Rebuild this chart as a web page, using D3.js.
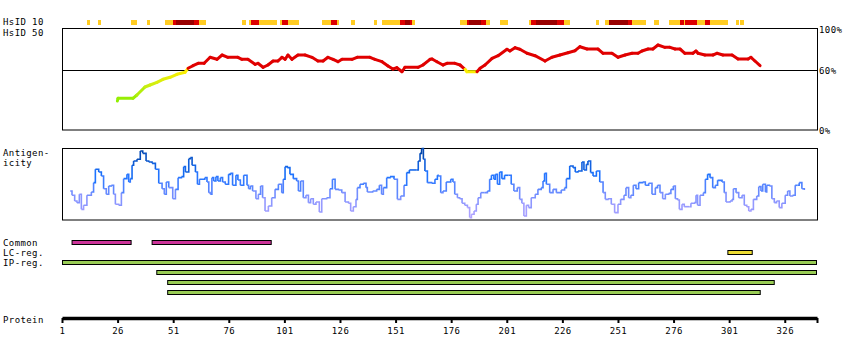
<!DOCTYPE html>
<html><head><meta charset="utf-8">
<script src="https://cdn.jsdelivr.net/npm/d3@7"></script>
<style>
body{margin:0;background:#fff;}
text{font-family:"DejaVu Sans Mono",monospace;font-size:9px;letter-spacing:0.4px;fill:#000;}
</style></head>
<body><svg id="c" width="850" height="360"></svg>
<script>
// ---------------- DATA ----------------
const proteinLength = 340;
const axisTicks = [1, 26, 51, 76, 101, 126, 151, 176, 201, 226, 251, 276, 301, 326];
const pctLabels = [100, 60, 0];

// HsID 10 blocks: [startResidue, endResidue, level] level 1=low,2=mid,3=high
const hsid10 = [
  [12.2,13.6,1],[17.1,18.5,1],[32.0,34.6,1],[39.2,40.6,1],
  [47.3,50.9,1],[50.9,52.3,2],[52.3,60.4,3],[60.4,62.6,2],[62.6,65.8,1],
  [81.9,83.7,1],
  [85.1,86.0,1],[86.0,89.6,2],[89.6,97.7,1],
  [99.0,99.9,1],[99.9,102.6,2],[102.6,107.6,1],
  [117.9,121.9,1],[121.9,124.7,2],[124.7,125.6,1],
  [130.9,132.7,1],[141.3,142.6,1],
  [144.9,153.0,1],[153.0,155.2,2],[155.2,157.5,3],[157.5,158.4,2],[158.4,159.7,1],
  [180.0,183.1,1],[183.1,184.0,2],[184.0,189.4,3],[189.4,191.7,2],[191.7,193.5,1],
  [198.0,201.5,1],
  [211.0,211.9,1],[211.9,214.1,2],[214.1,223.6,3],[223.6,226.7,2],[226.7,229.4,1],
  [241.1,242.5,1],
  [245.2,247.0,1],[247.0,255.5,3],[255.5,257.3,2],[257.3,263.6,1],
  [267.2,269.5,1],
  [274.0,278.9,1],[278.9,280.7,2],[280.7,281.1,1],[281.1,286.5,2],[286.5,290.1,1],[290.1,292.4,2],[292.4,300.5,1],
  [304.1,305.4,1],[305.9,307.7,1]
];

// HsID 50 line: [residue, identity %]
const hsid50 = [
  [25.9,29],[26.2,31.7],[32.9,31.7],[34.7,35],[38.3,43],[40.6,45],[43.7,47.7],[46.4,50.7],
  [49.6,52.7],[52.7,55.7],[56.3,57.7],[57.7,61.7],[59.9,64.3],[62.2,66.7],[64.9,66.7],
  [67.6,72.7],[70.7,70.7],[73.0,75],[75.6,72.7],[80.1,72.7],[81.9,70.7],[84.6,70.7],
  [87.8,65.7],[89.1,66.7],[91.4,62.7],[93.6,65],[95.9,69],[98.1,69],[99.9,72.7],
  [101.3,70.7],[102.6,75],[104.4,70.7],[107.1,75],[110.3,75],[113.4,72.7],[116.1,69],
  [118.4,69],[120.6,72.7],[122.9,70.7],[125.1,68.3],[126.9,70.7],[131.4,70.7],
  [133.7,72.7],[139.5,72.7],[141.7,70.7],[144.9,68.3],[147.6,64],[149.8,61],[151.6,62.3],
  [153.9,58.3],[155.2,62.7],[161.1,62.7],[163.3,65],[166.5,70.7],
  [167.4,71],[169.6,68.3],[172.3,65],[174.1,66.7],[177.7,66.7],[180.0,65],[182.2,60.7],
  [183.1,58.3],[187.6,58.3],[189.0,61.7],[191.2,65],[194.4,71.7],[197.1,74.3],
  [201.1,80.7],[202.4,79],[204.7,82.3],[206.9,80.7],[210.1,76.7],[213.7,74.3],
  [218.2,69],[221.3,72.7],[224.9,75],[228.5,77.3],[231.7,79.3],[233.9,83.3],
  [237.1,81],[242.0,81],[244.3,76.7],[248.3,76.7],[251.0,72.7],[254.2,75],[257.3,76.7],
  [260.0,76.7],[261.8,79],[264.5,81],[266.7,81],[269.0,85],[272.1,82.7],[274.4,82.7],
  [276.7,81],[278.9,81],[281.1,76.7],[284.7,76.7],[286.1,79],[287.0,76.7],[290.1,75],
  [293.7,75],[295.5,76.7],[298.2,75],[302.3,75],[305.0,71],[309.5,71],[310.8,72.7],
  [312.6,69],[314.9,64.3]
];

// Antigenicity line: [residue, relative score]
const antigenicity = [
  [4.7,40.3],[5.5,34.3],[6.7,26.4],[7.7,24.1],[8.8,35.7],[9.7,14.8],[10.7,20.4],[12.2,34.3],
  [14.2,38.9],[15.2,51.9],[16.0,70.4],[17.5,66.7],[18.7,61.1],[19.7,43.5],[20.9,35.7],
  [22.0,47.2],[23.2,48.2],[24.2,35.7],[25.0,21.8],[26.5,20.4],[27.7,38],[28.7,57.4],
  [30.2,63.4],[31.0,52.8],[31.7,57.4],[32.5,76],[33.2,82],[34.7,84.3],[36.2,95.8],
  [37.3,92.6],[38.8,82],[40.0,80.6],[41.5,78.7],[43.0,70.4],[44.5,51],[46.0,43.5],
  [47.0,35.7],[47.9,52.8],[49.0,45],[50.8,29.6],[52.0,42.6],[53.2,58.8],[54.7,60.2],
  [55.7,74.1],[56.5,66.7],[58.0,85.2],[58.7,86.6],[59.5,76],[61.0,66.7],[61.9,49.6],
  [62.8,56.5],[65.2,58.8],[66.2,52.8],[67.0,38],[67.7,35.7],[68.4,58.8],[69.2,54.2],
  [70.2,60.2],[71.1,54.2],[72.2,58.8],[73.2,52.8],[74.4,49.6],[75.9,63.4],[76.7,64.8],
  [77.7,48.2],[79.2,62.1],[80.1,55.6],[81.2,48.2],[82.7,62.1],[84.2,48.2],[84.9,43.5],
  [85.7,47.2],[86.7,40.3],[88.2,29.6],[89.3,35.7],[90.3,47.2],[91.2,31],[92.3,12.5],
  [93.8,19.4],[95.3,31],[96.8,42.6],[98.3,49.6],[99.8,38],[100.5,56.5],[101.3,74.1],
  [102.3,72.7],[103.5,63.4],[105.0,57.4],[106.5,54.2],[107.3,40.3],[108.3,54.2],
  [109.5,31],[110.7,34.3],[111.8,24.1],[112.8,29.6],[114.0,21.8],[115.2,25],[116.7,11.1],
  [117.8,29.6],[120.0,31],[121.5,43.5],[122.6,56.5],[123.8,42.6],[125.3,41.7],[126.8,38],
  [128.3,25],[129.8,23.2],[130.8,12.5],[132.0,18.5],[133.2,28.7],[133.8,44.9],[135.0,49.6],
  [136.5,51],[137.7,44.9],[138.3,38.9],[140.7,40.3],[142.5,42.6],[143.7,48.2],[144.7,35.7],
  [145.5,44.9],[147.0,58.8],[148.5,60.2],[150.3,56.5],[151.8,28.7],[153.3,33.3],
  [154.8,48.2],[156.0,65.8],[157.2,69.5],[160.5,69.5],[161.2,82],[162.0,92.6],[162.7,99.1],
  [163.5,84.3],[164.2,68.1],[165.3,51.9],[167.2,51],[168.7,56.5],[169.8,62.1],[170.1,61.1],
  [171.3,38],[172.3,40.3],[173.8,52.8],[175.8,56.5],[176.8,52.8],[177.6,35.7],[178.8,31],
  [179.8,29.6],[180.9,23.2],[182.1,20.4],[183.3,17.2],[184.3,3.3],[185.1,7.9],[186.3,12.5],
  [187.3,21.8],[188.1,31],[189.3,38],[191.1,38],[192.3,40.3],[193.3,56.5],[194.1,62.1],
  [195.2,56.5],[195.9,63.4],[196.8,49.6],[197.8,66.7],[198.8,57.4],[200.0,62.1],
  [201.8,62.1],[203.0,49.6],[204.2,40.3],[205.7,44.9],[206.8,28.7],[207.8,23.2],
  [208.7,5.6],[209.8,20.4],[210.8,17.2],[212.0,31],[213.8,35.7],[215.0,42.6],[216.5,44.9],
  [217.3,54.2],[218.0,64.8],[218.8,49.6],[220.3,38],[221.8,42.6],[223.3,38],[225.5,41.7],
  [227.0,44.9],[227.8,57.4],[229.3,75],[230.8,72.7],[231.8,66.7],[233.0,68.1],[234.8,80.6],
  [235.7,69.5],[236.8,77.3],[237.5,82],[238.7,65.8],[239.8,61.1],[241.3,68.1],[242.8,52.8],
  [244.3,38],[245.3,28.7],[246.5,29.6],[248.0,21.8],[249.5,10.2],[251.0,21.8],[252.2,28.7],
  [253.7,34.3],[254.6,44.9],[255.8,31],[256.8,34.3],[257.9,48.2],[259.1,43.5],[260.3,51.9],
  [262.1,52.8],[263.3,48.2],[264.8,51],[266.3,35.7],[267.8,44.9],[268.8,48.2],[269.9,38],
  [271.1,29.6],[272.3,35.7],[273.8,37],[274.8,42.6],[275.9,47.2],[276.8,29.6],[277.8,27.8],
  [278.6,14.8],[279.8,21.8],[280.8,18.5],[283.1,18.5],[283.8,23.2],[285.3,24.1],
  [286.1,34.3],[286.8,20.4],[287.9,34.3],[289.4,38],[290.3,56.5],[291.3,63.4],[292.4,58.8],
  [293.6,44.9],[294.8,48.2],[295.8,55.1],[297.8,52.8],[298.8,38],[299.6,25],[301.4,26.4],
  [302.3,28.7],[302.9,43.5],[304.1,38],[305.3,31],[306.8,34.3],[307.8,20.4],[308.9,18.5],
  [309.8,12.5],[310.8,14.8],[311.9,28.7],[313.4,33.3],[314.3,46.3],[315.3,40.3],
  [316.1,49.6],[317.3,38.9],[317.9,48.2],[319.1,47.2],[320.2,29.6],[321.3,24.1],
  [322.3,26.4],[323.5,17.2],[324.7,23.2],[326.2,34.3],[327.3,40.3],[328.3,33.3],
  [329.5,34.3],[330.7,48.2],[331.8,48.2],[332.5,51.9],[333.7,43.5],[334.8,41.7]
];

// Feature tracks: [start, end]
const commonRegions = [[5.3, 32.3], [41.3, 95.3]];
const lcRegions = [[300.2, 311.6]];
const ipRegions = [[1, 340.5], [43.4, 340.5], [48.3, 321.5], [48.3, 315.2]];

const trackLabels = ["Common", "LC-reg.", "IP-reg."];

// ---------------- DRAW ----------------
const svg = d3.select("#c");
const x = d3.scaleLinear().domain([1, proteinLength + 0.5]).range([62, 817]);

// left labels
const lab = (t, y) => svg.append("text").attr("x", 3).attr("y", y).text(t);
lab("HsID 10", 25); lab("HsID 50", 36);
lab("Antigen-", 156); lab("icity", 166);
trackLabels.forEach((t, i) => lab(t, 246 + i * 10));
lab("Protein", 323);

// HsID 10 strip
const hsColor = d3.scaleOrdinal().domain([1, 2, 3]).range(["#ffcc22", "#dd0000", "#990000"]);
svg.append("g").selectAll("rect").data(hsid10).join("rect")
  .attr("x", d => x(d[0])).attr("width", d => x(d[1]) - x(d[0]))
  .attr("y", 20).attr("height", 5)
  .attr("fill", d => hsColor(d[2])).attr("shape-rendering", "crispEdges");

// HsID 50 chart
const yH = d3.scaleLinear().domain([0, 100]).range([130, 30]);
svg.append("rect").attr("x", 62.5).attr("y", 28.5).attr("width", 755).attr("height", 101.5)
  .attr("fill", "none").attr("stroke", "#000").attr("stroke-width", 1);
svg.append("line").attr("x1", 62).attr("x2", 817).attr("y1", Math.round(yH(60)) + 0.5).attr("y2", Math.round(yH(60)) + 0.5)
  .attr("stroke", "#000").attr("stroke-width", 1);
pctLabels.forEach(p => {
  svg.append("text").attr("x", 819).attr("y", (p === 100 ? 29 : yH(p)) + 4).text(p + "%");
});
const lowColor = d3.scaleLinear().domain([28, 45, 60]).range(["#88ee00", "#ccee11", "#ffee00"]).clamp(true);
const idColor = v => v >= 60 ? "#e00000" : lowColor(v);
const hsSegs = d3.pairs(hsid50);
svg.append("g").selectAll("line").data(hsSegs).join("line")
  .attr("x1", d => x(d[0][0])).attr("y1", d => yH(d[0][1]))
  .attr("x2", d => x(d[1][0])).attr("y2", d => yH(d[1][1]))
  .attr("stroke", d => idColor(Math.min(d[0][1], d[1][1]) >= 60 ? 60 : (d[0][1] + d[1][1]) / 2))
  .attr("stroke-width", 3).attr("stroke-linecap", "round");

// Antigenicity chart
const yA = d3.scaleLinear().domain([0, 100]).range([220, 148]);
svg.append("rect").attr("x", 62.5).attr("y", 148.5).attr("width", 755).attr("height", 71.5)
  .attr("fill", "none").attr("stroke", "#000").attr("stroke-width", 1);
const agColor = d3.scaleLinear().domain([5, 35, 62, 100]).range(["#b4a4ff", "#7a90ff", "#1a72ff", "#0040a0"]).clamp(true);
const agSegs = d3.pairs(antigenicity);
svg.append("g").selectAll("path").data(agSegs).join("path")
  .attr("d", d => `M${x(d[0][0])},${yA(d[0][1])}H${x(d[1][0])}V${yA(d[1][1])}`)
  .attr("fill", "none")
  .attr("stroke", d => agColor((d[0][1] + d[1][1]) / 2))
  .attr("stroke-width", 1.6);

// Feature tracks
function track(data, y, fill) {
  svg.append("g").selectAll("rect").data(data).join("rect")
    .attr("x", d => x(d[0]) + 0.5).attr("width", d => x(d[1]) - x(d[0]) - 1)
    .attr("y", y + 0.5).attr("height", 4)
    .attr("fill", fill).attr("stroke", "#000").attr("stroke-width", 1);
}
track(commonRegions, 240, "#cc3399");
track(lcRegions, 250, "#eedd33");
ipRegions.forEach((r, i) => track([r], 260 + i * 10, "#99cc55"));

// Protein axis
const axis = d3.axisBottom(x).tickValues(axisTicks.concat([proteinLength + 0.5]))
  .tickFormat(d => axisTicks.includes(d) ? d : "").tickSize(5).tickSizeOuter(0);
const ag = svg.append("g").attr("transform", "translate(0,318)").call(axis);
ag.select(".domain").attr("stroke-width", 3.5);
ag.selectAll(".tick line").attr("stroke-width", 2);
ag.selectAll(".tick text").attr("dy", 0).attr("y", 16)
  .style("font-family", "'DejaVu Sans Mono',monospace").style("font-size", "9px").style("letter-spacing", "0.4px");
</script></body></html>
